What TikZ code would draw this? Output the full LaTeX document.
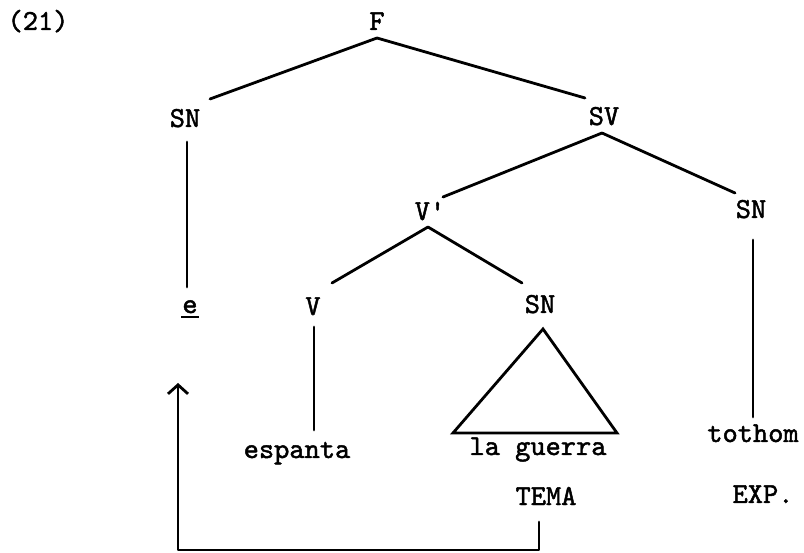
\documentclass[tikz,border=0pt]{standalone}
\usepackage{fontspec}
\newfontfamily\twfont{lmmono10-regular.otf}[FakeBold=1.6]
\usetikzlibrary{calc,arrows.meta}
\begin{document}
\begin{tikzpicture}[x=1pt,y=-1pt,
  lbl/.style={inner sep=0pt,anchor=base,font=\fontsize{29}{34}\selectfont\twfont},
  br/.style={line width=2.8pt,line cap=round,line join=round},
  tri/.style={line width=2.8pt,line join=miter}]
\useasboundingbox (0,0) rectangle (804,553);
% labels
\node[lbl] (num) at (38,30) {(21)};
\node[lbl] (F) at (377,30) {F};
\node[lbl] (SNl) at (185,127) {SN};
\node[lbl] (SV) at (604,125) {SV};
\node[lbl] (Vb) at (430,220) {V'};
\node[lbl] (SNr) at (751,218) {SN};
\node[lbl] (e) at (190,313) {e};
\node[lbl] (V) at (313,315) {V};
\node[lbl] (SNm) at (540,313) {SN};
\node[lbl] (esp) at (297,458) {espanta};
\node[lbl] (lg) at (538,455) {la guerra};
\node[lbl] (tot) at (753,442) {tothom};
\node[lbl] (tema) at (546,505) {TEMA};
\node[lbl] (exp) at (763,503) {EXP.};
% underline of e
\draw[line width=2pt] ($(e.base west)+(-1,4)$) -- ($(e.base east)+(1,4)$);
% branches
\draw[br] ($(F.base)+(0,8)$) -- ($(SNl.base)+(25,-28)$);
\draw[br] ($(F.base)+(0,8)$) -- ($(SV.base)+(-19,-27)$);
\draw[br] ($(SV.base)+(-2,8)$) -- ($(Vb.base)+(13,-23)$);
\draw[br] ($(SV.base)+(-2,8)$) -- ($(SNr.base)+(-16,-25)$);
\draw[br] ($(Vb.base)+(-2,7)$) -- ($(V.base)+(19,-32)$);
\draw[br] ($(Vb.base)+(-2,7)$) -- ($(SNm.base)+(-18,-30)$);
\draw[br] ($(SNl.base)+(2,15)$) -- ($(SNl.base |- e.base)+(2,-26)$);
\draw[br] ($(SNr.base)+(2,22)$) -- ($(SNr.base |- tot.base)+(2,-25)$);
\draw[br] ($(V.base)+(1,12)$) -- ($(V.base |- esp.base)+(1,-28)$);
% triangle
\draw[tri] ($(SNm.base)+(3,16)$) -- ($(lg.base)+(-85,-22)$) -- ($(lg.base)+(79,-22)$) -- cycle;
% movement arrow
\coordinate (arrEnd) at ($(e.base)+(-12,70)$);
\draw[br,-{Straight Barb[length=9pt,width=20pt]}]
  ($(tema.base)+(-7,17)$) -- ($(tema.base)+(-7,45)$) -| (arrEnd);
\end{tikzpicture}
\end{document}
